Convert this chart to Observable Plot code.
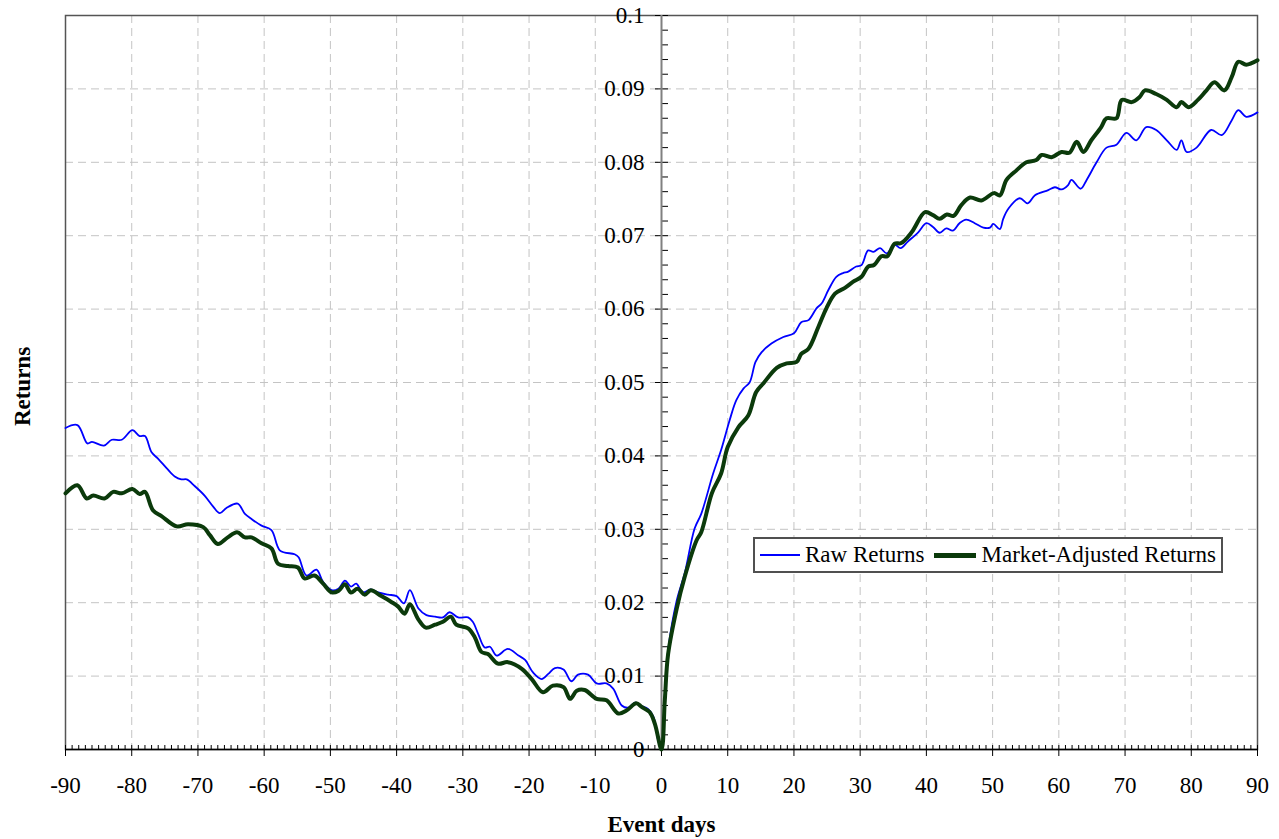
<!DOCTYPE html>
<html>
<head>
<meta charset="utf-8">
<script src="https://cdn.jsdelivr.net/npm/d3@7"></script>
<script src="https://cdn.jsdelivr.net/npm/@observablehq/plot@0.6"></script>
<style>
  html, body { margin: 0; padding: 0; background: #fff; }
  #wrap { position: relative; width: 1279px; height: 839px; }
  #legend {
    position: absolute; left: 753px; top: 537px; width: 470px; height: 36px;
    box-sizing: border-box; border: 2px solid #505050; background: #fff;
    display: flex; align-items: center;
    font-family: "Liberation Serif", "Times New Roman", serif; font-size: 23px; color: #000;
  }
  #legend .sw { display: inline-block; }
  #legend .t { margin-left: 5px; white-space: nowrap; }
</style>
</head>
<body>
<div id="wrap"></div>
<script>
// ---- Data ----
const rawDays = [-90,-88.2,-86.7,-86,-84.2,-83,-81.5,-79.9,-78.8,-78,-77,-76,-74.7,-73.5,-72.5,-71.7,-70.5,-69,-67.7,-66.7,-65.7,-64,-62.9,-61.9,-60.4,-58.9,-57.6,-55.4,-54.8,-53.6,-52.1,-51.1,-49.8,-48.8,-47.8,-46.9,-46.1,-45.1,-43.9,-42.8,-41.3,-40,-38.9,-38,-36.7,-35.5,-34.2,-33,-32,-30.7,-29.2,-28.5,-27.7,-26.7,-25.9,-24.9,-23.2,-21.6,-20.6,-19.4,-18.1,-17.1,-16.1,-14.8,-13.6,-12.6,-11.1,-9.8,-8.3,-7.3,-6,-5,-4,-3.3,-2,-1.2,-0.5,0,0.5,1,2.3,3.5,5,6,7.8,9,10.3,11.3,12.4,13.3,14.2,15.1,16.6,18.4,20,21.1,22.2,23.4,24.2,25.2,26.4,27.4,28.2,29.4,30.2,31.2,32,33,34,35.2,36.1,37.2,38.8,40,41,42,43,44,45,46,47.3,48.6,49.6,50.1,51.1,51.6,52.4,54.1,55.3,56.4,58.4,59.4,60.4,61.4,61.9,63.3,64.2,65.7,67.2,68.7,70.2,71.7,73.2,74.7,76.3,77.8,78.5,79.3,80.8,83,84.6,86.1,87.1,88.3,90];
const rawValues = [0.0438,0.0442,0.0417,0.0419,0.0414,0.0422,0.0422,0.0435,0.0427,0.0427,0.0405,0.0396,0.0383,0.0372,0.0368,0.0368,0.0359,0.0346,0.0331,0.0322,0.0329,0.0335,0.0321,0.0314,0.0305,0.0299,0.0271,0.0266,0.0262,0.0237,0.0245,0.0228,0.0217,0.0219,0.0230,0.0222,0.0226,0.0214,0.0218,0.0214,0.0211,0.0209,0.0199,0.0217,0.0192,0.0183,0.0181,0.0180,0.0187,0.0180,0.0180,0.0174,0.0158,0.0139,0.0140,0.0128,0.0137,0.0128,0.0122,0.0105,0.0096,0.0103,0.0111,0.0109,0.0093,0.0102,0.0102,0.0090,0.0090,0.0083,0.0060,0.0057,0.0064,0.0060,0.0055,0.0044,0.0012,0.0000,0.0072,0.0135,0.0203,0.0240,0.0301,0.0321,0.0376,0.0408,0.0449,0.0476,0.0492,0.0500,0.0528,0.0541,0.0553,0.0562,0.0567,0.0582,0.0585,0.0601,0.0608,0.0626,0.0644,0.0649,0.0651,0.0658,0.0660,0.0680,0.0678,0.0683,0.0676,0.0688,0.0683,0.0692,0.0705,0.0717,0.0712,0.0704,0.0710,0.0707,0.0717,0.0722,0.0717,0.0711,0.0711,0.0716,0.0709,0.0723,0.0737,0.0751,0.0744,0.0755,0.0762,0.0766,0.0763,0.0769,0.0776,0.0764,0.0776,0.0800,0.0820,0.0824,0.0840,0.0830,0.0848,0.0844,0.0830,0.0817,0.0830,0.0814,0.0820,0.0844,0.0837,0.0857,0.0871,0.0862,0.0868];

const adjDays = [-90,-88.2,-86.8,-85.8,-84.1,-82.8,-81.5,-79.9,-78.8,-78,-76.8,-75.5,-73.2,-71.5,-69.2,-68.2,-67,-65.5,-64.1,-62.9,-61.9,-60.4,-58.9,-57.9,-56.4,-54.9,-53.9,-52.4,-51.1,-49.8,-48.8,-47.8,-46.9,-45.9,-44.8,-43.9,-42.3,-40.8,-39.8,-38.8,-38,-36.7,-35.6,-34.2,-33,-31.8,-31,-29.2,-28.2,-27.2,-26.2,-24.7,-23.2,-21.1,-19.6,-17.9,-16.4,-14.8,-13.8,-12.8,-11.6,-9.8,-8.3,-6.5,-5.3,-3.8,-3,-1.8,-1,0,0.5,1,2.3,3.5,5.3,6,7.6,9,10,11.6,13.1,14.3,15.4,17.4,18.9,20.4,21.1,22.2,23.7,24.9,26.2,27.7,28.9,30.2,31.2,32.1,33.2,34.1,35.2,36.2,37.8,39.8,41,42,43.1,44.1,45.3,46.6,48.3,50.2,51.1,52.1,53.6,55.1,56.6,57.4,58.9,60.4,61.6,62.7,63.7,64.9,66.4,67.2,68.7,69.5,71,72.2,73,74.7,76.3,77.8,78.5,79.6,81,82.3,83.5,85,86.1,87.1,88.3,90];
const adjValues = [0.0349,0.0360,0.0342,0.0346,0.0342,0.0351,0.0349,0.0355,0.0348,0.0351,0.0326,0.0318,0.0304,0.0307,0.0303,0.0292,0.0280,0.0289,0.0296,0.0289,0.0289,0.0281,0.0274,0.0253,0.0250,0.0248,0.0233,0.0237,0.0226,0.0214,0.0216,0.0225,0.0214,0.0219,0.0211,0.0217,0.0209,0.0201,0.0195,0.0185,0.0198,0.0177,0.0166,0.0170,0.0174,0.0181,0.0170,0.0165,0.0153,0.0133,0.0130,0.0117,0.0119,0.0110,0.0096,0.0078,0.0087,0.0085,0.0069,0.0080,0.0081,0.0069,0.0067,0.0049,0.0053,0.0063,0.0058,0.0051,0.0035,0.0000,0.0067,0.0130,0.0192,0.0235,0.0285,0.0296,0.0349,0.0376,0.0412,0.0439,0.0455,0.0487,0.0499,0.0520,0.0526,0.0528,0.0539,0.0546,0.0576,0.0601,0.0621,0.0629,0.0637,0.0644,0.0658,0.0660,0.0672,0.0672,0.0689,0.0690,0.0705,0.0732,0.0728,0.0723,0.0729,0.0727,0.0742,0.0752,0.0748,0.0758,0.0755,0.0776,0.0789,0.0800,0.0803,0.0810,0.0807,0.0814,0.0813,0.0828,0.0814,0.0830,0.0848,0.0860,0.0860,0.0885,0.0882,0.0889,0.0898,0.0893,0.0885,0.0875,0.0882,0.0875,0.0885,0.0898,0.0909,0.0898,0.0916,0.0937,0.0933,0.0939];

const xTicks = [-90,-80,-70,-60,-50,-40,-30,-20,-10,0,10,20,30,40,50,60,70,80,90];
const xGrid = [-80,-70,-60,-50,-40,-30,-20,-10,10,20,30,40,50,60,70,80];
const yTicks = [0,0.01,0.02,0.03,0.04,0.05,0.06,0.07,0.08,0.09,0.1];
const yGrid = [0.01,0.02,0.03,0.04,0.05,0.06,0.07,0.08,0.09];
const seriesNames = ["Raw Returns", "Market-Adjusted Returns"];
const seriesColors = ["#0000ff", "#0b3a0b"];

// ---- Layout ----
const W = 1279, H = 839;
const mL = 65, mR = 22, mT = 15, mB = 90;
const plotW = W - mL - mR, plotH = H - mT - mB;
const xDomain = [-90, 90], yDomain = [0, 0.1];
const zeroOffset = (0 - xDomain[0]) / (xDomain[1] - xDomain[0]) * plotW;

const raw = rawDays.map((d, i) => ({day: d, value: rawValues[i]}));
const adj = adjDays.map((d, i) => ({day: d, value: adjValues[i]}));
const xMinor = d3.range(xDomain[0], xDomain[1] + 1, 1);
const yMinor = d3.range(0, 50.5, 1).map(i => +(i * 0.002).toFixed(3));

const chart = Plot.plot({
  width: W, height: H,
  marginLeft: mL, marginRight: mR, marginTop: mT, marginBottom: mB,
  style: {fontFamily: "Liberation Serif, Times New Roman, serif", fontSize: "23px", color: "#000", background: "#fff", overflow: "visible"},
  x: {domain: xDomain, label: null},
  y: {domain: yDomain, label: null},
  marks: [
    Plot.gridX(xGrid, {stroke: "#c4c4c4", strokeOpacity: 1, strokeDasharray: "8,5"}),
    Plot.gridY(yGrid, {stroke: "#c4c4c4", strokeOpacity: 1, strokeDasharray: "8,5"}),
    Plot.frame({stroke: "#555", strokeWidth: 1.5}),
    // x axis: labels + downward major ticks
    Plot.axisX(xTicks, {anchor: "bottom", tickSize: 7, tickPadding: 20, tickFormat: d => String(d), label: null, stroke: "#000"}),
    // upward minor ticks on the x axis
    Plot.axisX(xMinor, {anchor: "top", dy: plotH, tickSize: 5, tickFormat: () => "", label: null, stroke: "#000"}),
    // y axis at x = 0
    Plot.axisY(yTicks, {anchor: "left", dx: zeroOffset, tickSize: 6, tickPadding: 11, tickFormat: d => String(+d.toFixed(2)), label: null, stroke: "#000"}),
    Plot.axisY(yMinor, {anchor: "right", dx: zeroOffset - plotW, tickSize: 6, tickFormat: () => "", label: null, stroke: "#000"}),
    Plot.ruleY([0], {stroke: "#000", strokeWidth: 1.5}),
    Plot.ruleX([0], {stroke: "#808080", strokeWidth: 2}),
    Plot.line(raw, {x: "day", y: "value", stroke: seriesColors[0], strokeWidth: 1.8, curve: "catmull-rom"}),
    Plot.line(adj, {x: "day", y: "value", stroke: seriesColors[1], strokeWidth: 4, curve: "catmull-rom"}),
    Plot.text(["Event days"], {frameAnchor: "bottom", dy: 82, fontWeight: "bold", fontSize: 23, fill: "#000"}),
    Plot.text(["Returns"], {frameAnchor: "left", textAnchor: "middle", dx: -43, dy: 4, rotate: -90, fontWeight: "bold", fontSize: 23, fill: "#000"})
  ]
});

const wrap = document.getElementById("wrap");
wrap.appendChild(chart);

// legend (inside the plot area, lower right)
const legend = document.createElement("div");
legend.id = "legend";
legend.innerHTML =
  `<span class="sw" style="margin-left:5px;width:40px;height:2px;background:${seriesColors[0]}"></span>` +
  `<span class="t">${seriesNames[0]}</span>` +
  `<span class="sw" style="margin-left:10px;width:42px;height:5px;background:${seriesColors[1]}"></span>` +
  `<span class="t">${seriesNames[1]}</span>`;
wrap.appendChild(legend);
</script>
</body>
</html>
